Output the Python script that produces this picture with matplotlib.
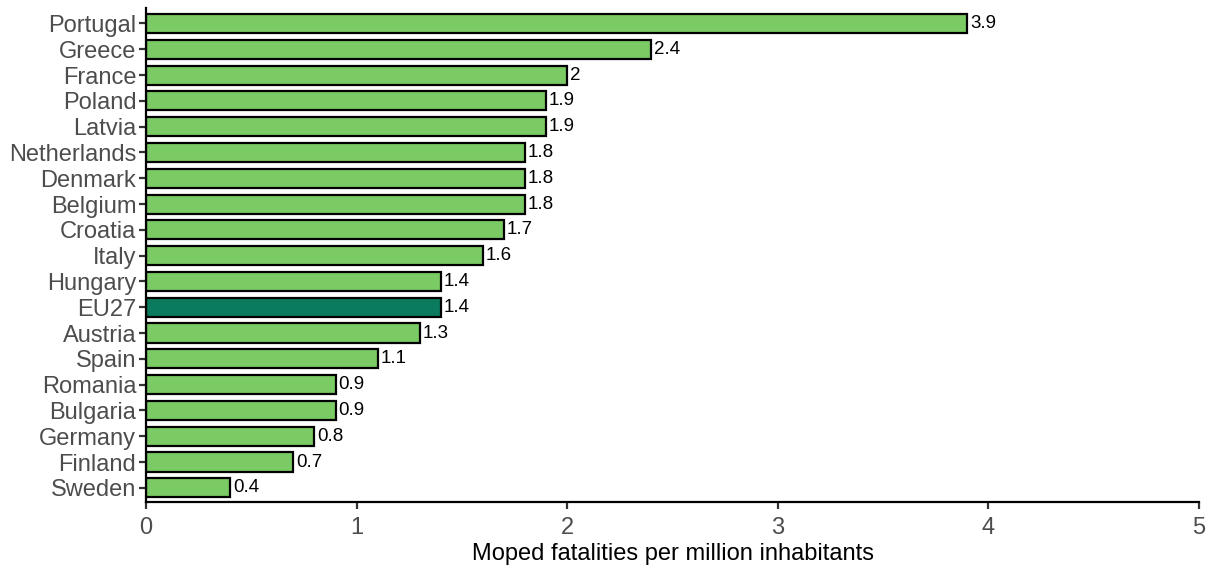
import matplotlib.pyplot as plt

countries = ['Portugal', 'Greece', 'France', 'Poland', 'Latvia', 'Netherlands',
             'Denmark', 'Belgium', 'Croatia', 'Italy', 'Hungary', 'EU27',
             'Austria', 'Spain', 'Romania', 'Bulgaria', 'Germany', 'Finland', 'Sweden']
values = [3.9, 2.4, 2, 1.9, 1.9, 1.8, 1.8, 1.8, 1.7, 1.6, 1.4, 1.4,
          1.3, 1.1, 0.9, 0.9, 0.8, 0.7, 0.4]
labels = ['3.9', '2.4', '2', '1.9', '1.9', '1.8', '1.8', '1.8', '1.7', '1.6', '1.4', '1.4',
          '1.3', '1.1', '0.9', '0.9', '0.8', '0.7', '0.4']

plt.rcParams['font.family'] = ['Liberation Sans', 'DejaVu Sans']

fig = plt.figure(figsize=(12.11, 5.68), dpi=100)
ax = fig.add_axes([146 / 1211, 1 - 502 / 568, (1199 - 146) / 1211, 494 / 568])

n = len(countries)
ypos = [n - 1 - i for i in range(n)]
colors = ['#0b7b5e' if c == 'EU27' else '#7bcb64' for c in countries]
ax.barh(ypos, values, height=0.74, color=colors, edgecolor='black', linewidth=1.6)

for y, v, t in zip(ypos, values, labels):
    ax.text(v + 0.012, y, t, va='center', ha='left', fontsize=13.5, color='black')

ax.set_yticks(ypos)
ax.set_yticklabels(countries)
ax.set_ylim(-0.55, n - 1 + 0.6)
ax.set_xlim(0, 5)
ax.set_xticks([0, 1, 2, 3, 4, 5])
ax.set_xlabel('Moped fatalities per million inhabitants', fontsize=17, color='black', labelpad=3)

for s in ['top', 'right']:
    ax.spines[s].set_visible(False)
for s in ['left', 'bottom']:
    ax.spines[s].set_linewidth(1.6)
ax.tick_params(axis='both', labelsize=17, labelcolor='#4d4d4d', length=5, width=1.6, color='#333333')
ax.tick_params(axis='y', pad=2)
ax.tick_params(axis='x', pad=6)

fig.savefig('out.png', dpi=100)
